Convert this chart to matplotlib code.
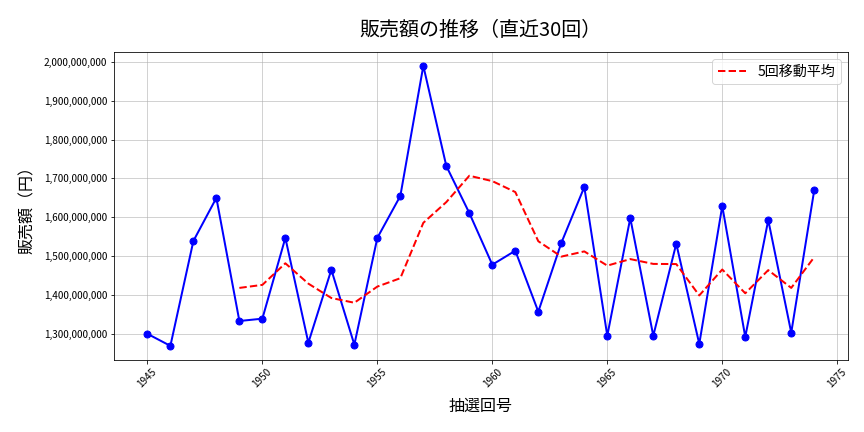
import matplotlib
matplotlib.use('Agg')
import pandas as pd
from matplotlib import pyplot as plt
from matplotlib.ticker import FuncFormatter

plt.rcParams['font.family'] = ['Noto Sans CJK JP', 'DejaVu Sans']

# 抽選回号と販売額（直近30回）
draws = list(range(1945, 1975))
sales = [
    1300e6, 1269e6, 1539e6, 1650e6, 1333e6, 1339e6, 1547e6, 1277e6, 1465e6, 1272e6,
    1547e6, 1655e6, 1990e6, 1732e6, 1611e6, 1478e6, 1514e6, 1357e6, 1534e6, 1678e6,
    1295e6, 1598e6, 1295e6, 1532e6, 1274e6, 1629e6, 1292e6, 1593e6, 1303e6, 1670e6,
]
window = 5

ma = pd.Series(sales).rolling(window).mean()

fig, ax = plt.subplots(figsize=(12, 6), dpi=72)
ax.plot(draws, sales, color='blue', linewidth=2, marker='o', markersize=7)
ax.plot(draws, ma, color='red', linestyle='--', linewidth=2, label=f'{window}回移動平均')

ax.set_title('販売額の推移（直近30回）', fontsize=20, pad=16)
ax.set_xlabel('抽選回号', fontsize=16, labelpad=8)
ax.set_ylabel('販売額（円）', fontsize=16, labelpad=8)
ax.yaxis.set_major_formatter(FuncFormatter(lambda v, p: f'{int(v):,}'))
ax.tick_params(axis='both', labelsize=10)
plt.setp(ax.get_xticklabels(), rotation=45)
ax.grid(True, alpha=0.7)
ax.legend(loc='upper right', fontsize=14)

plt.subplots_adjust(left=0.132, right=0.981, top=0.880, bottom=0.167)
plt.savefig('out.png')
plt.close('all')
